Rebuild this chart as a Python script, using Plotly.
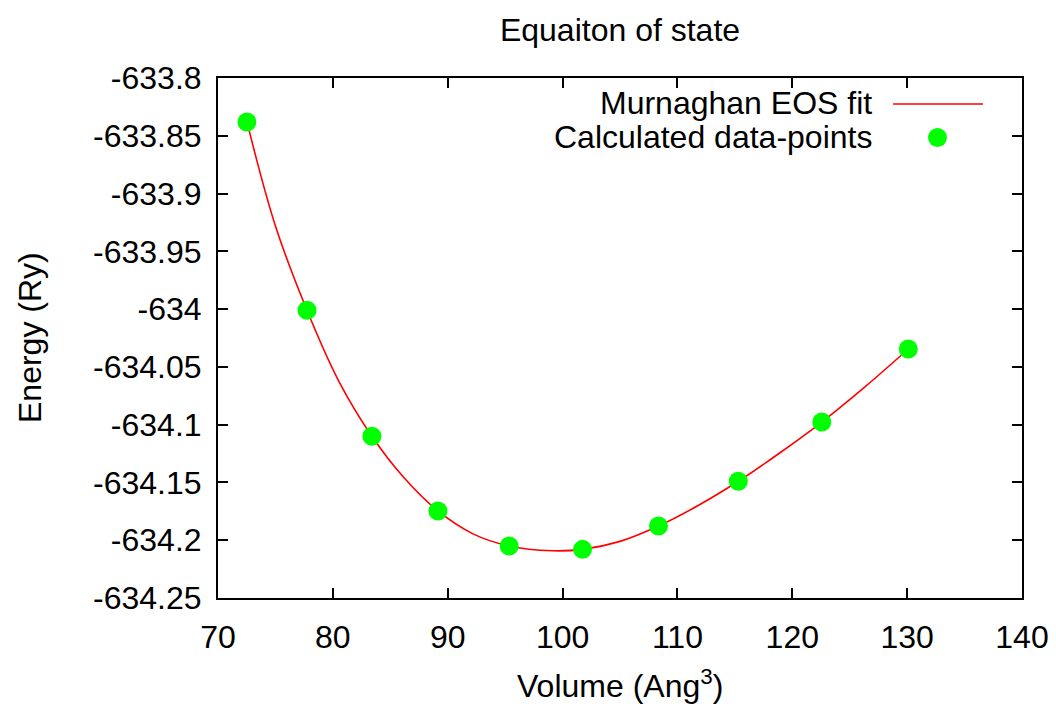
import plotly.graph_objects as go

# Calculated data-points
volume = [72.52, 77.75, 83.40, 89.15, 95.35, 101.74, 108.35, 115.30, 122.57, 130.10]
energy = [-633.838, -634.001, -634.110, -634.1747, -634.2050, -634.2079,
          -634.1877, -634.1490, -634.0977, -634.0345]

# Murnaghan EOS fit curve
fit_volume = [72.52, 75.0, 77.75, 80.5, 83.40, 86.2, 89.15, 92.2, 95.35, 99.1,
              101.74, 105.0, 108.35, 111.8, 115.30, 118.9, 122.57, 126.3, 130.10]
fit_energy = [-633.838, -633.928, -634.001, -634.062, -634.110, -634.146,
              -634.1747, -634.1945, -634.2050, -634.2091, -634.2079, -634.2010,
              -634.1877, -634.1700, -634.1490, -634.1245, -634.0977, -634.0675,
              -634.0345]

x_ticks = [70, 80, 90, 100, 110, 120, 130, 140]
x_tick_labels = ["70", "80", "90", "100", "110", "120", "130", "140"]
y_ticks = [-633.8, -633.85, -633.9, -633.95, -634.0, -634.05, -634.1,
           -634.15, -634.2, -634.25]
y_tick_labels = ["-633.8", "-633.85", "-633.9", "-633.95", "-634", "-634.05",
                 "-634.1", "-634.15", "-634.2", "-634.25"]

title_text = "Equaiton of state"
x_title = "Volume (Ang<sup>3</sup>)"
y_title = "Energy (Ry)"
fit_name = "Murnaghan EOS fit"
points_name = "Calculated data-points"

FONT = "Liberation Sans, Arial, sans-serif"
FS = 32
W, H = 1056, 704
L, R, T, B = 218, 34, 78, 106

fig = go.Figure()
fig.add_trace(go.Scatter(x=fit_volume, y=fit_energy, mode="lines",
                         line=dict(color="#ff0000", width=1.6, shape="spline", smoothing=1.0),
                         name=fit_name, showlegend=False, hoverinfo="skip"))
fig.add_trace(go.Scatter(x=volume, y=energy, mode="markers",
                         marker=dict(color="#00ff00", size=19, line=dict(width=0)),
                         name=points_name, showlegend=False))

axis_common = dict(showline=True, linecolor="#000000", linewidth=2, mirror="ticks",
                   ticks="inside", ticklen=10, tickwidth=2, tickcolor="#000000",
                   showgrid=False, zeroline=False,
                   tickfont=dict(family=FONT, size=FS, color="#000000"))

fig.update_xaxes(range=[70, 140], tickmode="array", tickvals=x_ticks,
                 ticktext=x_tick_labels, ticklabelstandoff=10, **axis_common)
fig.update_yaxes(range=[-634.25, -633.8], tickmode="array", tickvals=y_ticks,
                 ticktext=y_tick_labels, ticklabelstandoff=8, **axis_common)

pw = W - L - R
ph = H - T - B
def px(xp):
    return (xp - L) / pw
def py(yp):
    return (H - B - yp) / ph

annotations = [
    dict(text=x_title, x=px(620), y=py(684), xref="paper", yref="paper",
         xanchor="center", yanchor="middle", showarrow=False,
         font=dict(family=FONT, size=FS, color="#000000")),
    dict(text=y_title, x=px(30), y=py(338), xref="paper", yref="paper",
         xanchor="center", yanchor="middle", textangle=-90, showarrow=False,
         font=dict(family=FONT, size=FS, color="#000000")),
    dict(text=fit_name, x=px(874), y=py(103), xref="paper", yref="paper",
         xanchor="right", yanchor="middle", showarrow=False,
         font=dict(family=FONT, size=FS, color="#000000")),
    dict(text=points_name, x=px(874), y=py(137), xref="paper", yref="paper",
         xanchor="right", yanchor="middle", showarrow=False,
         font=dict(family=FONT, size=FS, color="#000000")),
]

shapes = [
    dict(type="line", xref="paper", yref="paper", x0=px(893), x1=px(983),
         y0=py(104), y1=py(104), line=dict(color="#ff0000", width=1.6)),
    dict(type="circle", xref="paper", yref="paper", x0=px(928), x1=px(947),
         y0=py(128), y1=py(147), fillcolor="#00ff00", line=dict(width=0)),
]

fig.update_layout(
    width=W, height=H,
    margin=dict(l=L, r=R, t=T, b=B, autoexpand=False),
    paper_bgcolor="#ffffff", plot_bgcolor="#ffffff",
    title=dict(text=title_text, x=px(620), xref="paper", xanchor="center",
               y=1 - 30 / H, yref="container", yanchor="middle",
               font=dict(family=FONT, size=FS, color="#000000")),
    annotations=annotations, shapes=shapes,
    showlegend=False,
)

fig.write_html("out.html", config={"displayModeBar": False},
               post_script="document.body.style.margin='0px';document.body.style.padding='0px';document.body.style.overflow='hidden';")
